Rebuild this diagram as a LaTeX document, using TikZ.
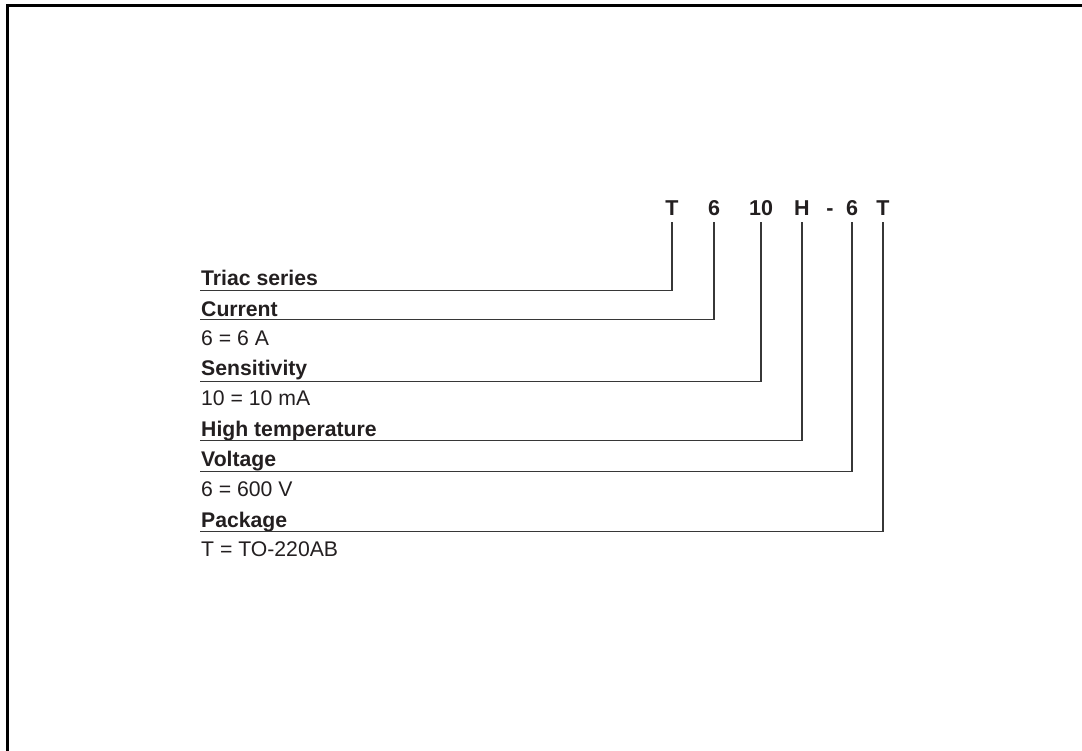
\documentclass[tikz,border=0pt]{standalone}
\usepackage{fontspec}
\setmainfont{Liberation Sans}
\begin{document}
\begin{tikzpicture}[x=1pt,y=-1pt,
  hdr/.style={anchor=base,inner sep=0pt,font=\fontsize{21.5}{24}\selectfont\bfseries,text=txt},
  lblb/.style={anchor=base west,inner sep=0pt,font=\fontsize{21.2}{24}\selectfont\bfseries,text=txt},
  lblr/.style={anchor=base west,inner sep=0pt,font=\fontsize{21.2}{24}\selectfont,text=txt},
  conn/.style={draw=ln,line width=1.3pt}]
\definecolor{txt}{RGB}{35,31,32}
\definecolor{ln}{RGB}{55,55,55}
\useasboundingbox (0,0) rectangle (1082,751);
% frame
\draw[line width=2.6pt,black] (7.7,760) -- (7.7,5.8) -- (1090,5.8);
% header
\node[hdr] (hT) at (672,215.5) {T};
\node[hdr] (h6) at (714,215.5) {6};
\node[hdr] (h10) at (761,215.5) {10};
\node[hdr] (hH) at (802,215.5) {H};
\node[hdr] (hD) at (830,215.5) {-};
\node[hdr] (h6b) at (852,215.5) {6};
\node[hdr] (hTb) at (883,215.5) {T};
% labels
\node[lblb] (lTriac) at (201,286) {Triac series};
\node[lblb] (lCur) at (201,316.5) {Current};
\node[lblr] (vCur) at (201,346) {6 = 6 A};
\node[lblb] (lSen) at (201,375.5) {Sensitivity};
\node[lblr] (vSen) at (201,405) {10 = 10 mA};
\node[lblb] (lHigh) at (201,436) {High temperature};
\node[lblb] (lVol) at (201,466.5) {Voltage};
\node[lblr] (vVol) at (201,496.5) {6 = 600 V};
\node[lblb] (lPack) at (201,527) {Package};
\node[lblr] (vPack) at (201,556.5) {T = TO-220AB};
% underline start points
\coordinate (uTriac) at (200,290.7);
\coordinate (uCur) at (200,319.3);
\coordinate (uSen) at (200,381.5);
\coordinate (uHigh) at (200,440.2);
\coordinate (uVol) at (200,471.2);
\coordinate (uPack) at (200,531.8);
% connectors
\draw[conn] (uTriac) -| ([yshift=-6.5pt]hT.base);
\draw[conn] (uCur) -| ([yshift=-6.5pt]h6.base);
\draw[conn] (uSen) -| ([yshift=-6.5pt]h10.base);
\draw[conn] (uHigh) -| ([yshift=-6.5pt]hH.base);
\draw[conn] (uVol) -| ([yshift=-6.5pt]h6b.base);
\draw[conn] (uPack) -| ([yshift=-6.5pt]hTb.base);
\end{tikzpicture}
\end{document}
